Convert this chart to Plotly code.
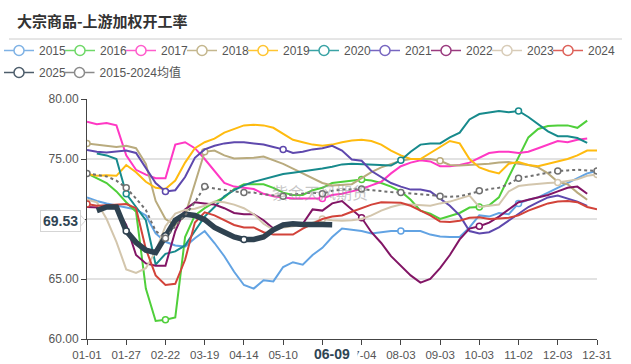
import plotly.graph_objects as go

# ---------------- data ----------------
tick_labels = ["01-01", "01-27", "02-22", "03-19", "04-14", "05-10", "",
               "07-04", "08-03", "09-03", "10-03", "11-02", "12-03", "12-31"]
weeks = list(range(53))

y2015 = [71.8, 71.5, 71.3, 71.15, 71.0, 70.8, 70.3, 68.8, 68.1, 67.8, 67.7, 68.4, 69.0,
         68.0, 66.9, 65.6, 64.5, 64.2, 64.9, 64.8, 66.0, 66.4, 66.2, 67.0, 67.6, 68.5,
         69.2, 69.1, 69.0, 68.8, 68.9, 69.0, 69.0, 69.0, 69.0, 68.7, 68.55, 68.5, 68.5,
         69.3, 70.3, 70.2, 70.5, 70.4, 71.3, 71.6, 71.8, 72.2, 72.6, 73.0, 73.4, 73.8, 74.0]
y2016 = [73.8, 73.4, 73.0, 72.3, 71.4, 70.6, 64.2, 61.5, 61.6, 61.8, 68.5, 70.3, 70.9,
         71.4, 71.8, 72.5, 72.9, 72.9, 72.9, 72.6, 72.2, 72.0, 72.0, 72.4, 72.6, 73.0,
         73.1, 73.2, 73.3, 73.2, 73.0, 72.7, 72.3, 71.6, 70.7, 70.45, 70.0, 70.25, 70.5,
         70.95, 71.0, 71.15, 71.8, 73.5, 75.2, 76.8, 77.5, 77.75, 77.8, 77.8, 77.6, 78.2, None]
y2017 = [78.1, 77.9, 78.0, 77.8, 75.3, 74.1, 73.7, 73.4, 73.4, 76.2, 76.4, 75.9, 75.0,
         74.0, 73.0, 72.7, 72.6, 72.5, 72.1, 71.9, 71.8, 71.7, 71.7, 71.7, 71.7, 72.0,
         72.1, 72.3, 72.5, 72.8, 73.1, 73.8, 74.4, 74.7, 74.9, 74.8, 74.4, 74.4, 74.5,
         74.7, 75.1, 75.5, 75.6, 75.6, 75.5, 75.6, 75.9, 76.2, 76.5, 76.4, 76.6, 76.7, None]
y2018 = [76.3, 76.2, 76.05, 76.0, 76.1, 75.9, 74.6, 71.5, 70.0, 69.5, 70.3, 73.0, 75.6,
         75.7, 75.3, 75.05, 75.05, 75.1, 75.2, 74.9, 74.6, 74.2, 73.8, 73.4, 73.0, 72.8,
         72.85, 72.9, 73.4, 73.9, 74.3, 74.6, 74.85, 75.0, 75.0, 75.0, 74.85, 74.5, 74.45,
         74.5, 74.5, 74.6, 74.7, 74.75, 74.6, 74.5, 74.3, 73.8, 73.1, 72.9, 72.2, 71.6, None]
y2019 = [73.75, 73.6, 73.65, 73.6, 74.5, 73.9, 73.1, 72.6, 72.5, 73.2, 74.7, 75.9, 76.4,
         76.7, 77.2, 77.5, 77.8, 77.85, 77.8, 77.6, 77.1, 76.6, 76.4, 76.2, 76.1, 76.2,
         76.4, 76.55, 76.6, 76.5, 76.2, 75.7, 75.3, 75.0, 75.0, 75.5, 76.0, 76.5, 76.3,
         75.0, 74.3, 74.0, 73.8, 74.6, 74.75, 74.5, 74.4, 74.6, 74.8, 75.0, 75.3, 75.7, 75.7]
y2020 = [None, 75.45, 75.3, 75.0, 72.1, 71.0, 69.9, 66.2, 67.1, 67.3, 67.8, 69.0, 70.2,
         71.0, 71.9, 72.4, 72.8, 73.1, 73.3, 73.5, 73.75, 73.85, 73.95, 74.05, 74.2, 74.35,
         74.55, 74.6, 74.55, 74.5, 74.45, 74.45, 74.9, 75.6, 76.2, 76.3, 76.3, 76.8, 77.2,
         78.3, 78.75, 78.9, 79.0, 78.9, 79.0, 78.5, 77.9, 77.3, 76.9, 76.9, 76.75, 76.35, None]
y2021 = [75.75, 75.6, 75.55, 75.65, 75.7, 75.5, 74.3, 73.0, 72.3, 72.4, 73.5, 75.1, 75.8,
         76.1, 76.3, 76.4, 76.4, 76.3, 76.2, 76.0, 75.8, 75.5, 75.6, 75.8, 75.9, 76.1,
         75.7, 74.95, 74.85, 74.0, 73.5, 73.0, 72.7, 72.45, 72.45, 72.3, 71.7, 71.1, 70.3,
         69.0, 68.8, 68.9, 69.3, 69.85, 70.4, 71.0, 71.4, 71.8, 71.95, 71.7, 71.45, 71.1, None]
y2022 = [71.0, 70.95, 70.95, 70.9, 69.5, 67.0, 66.3, 66.1, 66.1, 69.0, 70.8, 71.4, 71.3,
         71.2, 70.9, 70.5, 70.4, 70.4, 69.9, 69.2, 69.6, 69.6, 69.6, 70.8, 70.7, 71.3,
         71.5, 70.8, 70.1, 68.9, 68.0, 66.9, 66.1, 65.3, 64.7, 65.0, 65.9, 67.0, 68.3,
         69.2, 69.4, 69.7, 70.2, 70.8, 71.4, 71.6, 71.8, 72.0, 72.3, 72.6, 72.7, 72.1, None]
y2023 = [71.6, 71.4, 70.0, 68.1, 65.8, 65.5, 65.9, 67.3, 69.4, 70.45, 70.75, 70.85, 71.1,
         71.45, 71.4, 71.2, 70.9, 70.4, 69.6, 69.1, 69.3, 69.4, 69.5, 69.7, 70.0, 69.9,
         69.85, 69.9, 70.0, 70.3, 70.7, 71.0, 71.2, 71.2, 71.15, 71.1, 71.3, 71.45, 71.7,
         71.95, 71.0, 71.1, 71.2, 72.3, 72.75, 72.85, 72.95, 73.0, 73.05, 73.2, 73.3, 73.6, 73.7]
y2024 = [71.25, 71.1, 71.15, 71.2, 71.25, 70.9, 67.5, 65.3, 64.5, 64.6, 66.6, 69.7, 70.55,
         70.3, 69.9, 69.5, 69.3, 69.3, 68.9, 68.7, 68.7, 68.7, 69.2, 69.6, 70.0, 70.2,
         70.3, 70.6, 70.9, 71.2, 71.4, 71.4, 71.35, 71.1, 70.7, 70.3, 69.8, 69.75, 69.85,
         70.1, 70.15, 70.0, 70.05, 70.1, 70.3, 70.7, 71.0, 71.3, 71.45, 71.5, 71.4, 71.0, 70.8]
y2025 = [None, 70.7, 71.0, 71.0, 69.0, 68.05, 67.4, 67.2, 68.6, 69.9, 70.4, 70.3, 69.95,
         69.3, 68.9, 68.5, 68.3, 68.3, 68.5, 69.1, 69.5, 69.6, 69.55, 69.5, 69.55, 69.53]
y_mean = [73.8, 73.7, 73.55, 73.2, 72.6, 71.7, 70.75, 69.0, 68.4, 69.4, 70.3, 71.4, 72.7,
          72.55, 72.4, 72.3, 72.2, 72.2, 72.05, 71.95, 71.9, 72.05, 72.15, 72.2, 72.1, 72.35,
          72.45, 72.5, 72.5, 72.4, 72.3, 72.25, 72.2, 72.15, 72.1, 72.0, 71.9, 71.85, 71.9,
          72.1, 72.35, 72.5, 72.6, 72.9, 73.4, 73.55, 73.75, 73.9, 74.0, 74.05, 74.1, 74.05, 74.0]

series_names = ["2015", "2016", "2017", "2018", "2019", "2020", "2021", "2022",
                "2023", "2024", "2025", "2015-2024均值"]
series_values = [y2015, y2016, y2017, y2018, y2019, y2020, y2021, y2022,
                 y2023, y2024, y2025, y_mean]
y_tick_vals = [60, 65, 70, 75, 80]
y_tick_text = ["60.00", "65.00", "", "75.00", "80.00"]
pointer_x_label = "06-09"

# ---------------- style ----------------
line_colors = ["#62a3e3", "#4fcf3a", "#ff38c4", "#b9ab7e", "#ffbb0f", "#178a8c",
               "#5e48ad", "#821565", "#d3c6ad", "#d2433a", "#2f4250", "#707070"]
legend_colors = ["#7fb2e5", "#6fd868", "#ff5ccc", "#c4b78e", "#ffc531", "#3aa3a5",
                 "#7766c0", "#9a3b7f", "#d8ccb8", "#dd6159", "#4d5d6b", "#8a8a8a"]
line_widths = [2, 2, 2, 2, 2, 2, 2, 2, 2, 2, 5.5, 2]
line_dash = ["solid"] * 11 + ["dot"]
marker_points = [[32, 44], [8, 28, 40], [24], [0, 12, 36], [], [4, 32, 44], [8, 20],
                 [28, 40], [24, 48, 52], [0], [4, 8, 16], list(range(0, 53, 4))]
# legend entry positions (pixels, left edge of entry, top)
legend_pos = [(-1 + 61 * k, 36) for k in range(10)] + [(-1, 58), (59.5, 58)]

W, H = 631, 364
L, R, T, B = 87, 34, 99, 25
pw, ph = W - L - R, H - T - B


def px_x(p):
    return (p - L) / pw


def px_y(p):
    return (H - B - p) / ph


fig = go.Figure()

for k, name in enumerate(series_names):
    vals = series_values[k]
    xs = weeks[:len(vals)]
    fig.add_trace(go.Scatter(
        x=xs, y=vals, mode="lines", name=name, showlegend=False,
        line=dict(color=line_colors[k], width=line_widths[k], dash=line_dash[k]),
        hoverinfo="skip"))
    mi = [i for i in marker_points[k] if i < len(vals) and vals[i] is not None]
    if mi:
        fig.add_trace(go.Scatter(
            x=[xs[i] for i in mi], y=[vals[i] for i in mi], mode="markers",
            showlegend=False, hoverinfo="skip",
            marker=dict(symbol="circle", size=6, color="white",
                        line=dict(color=line_colors[k], width=1.5))))

legend_layouts = {}
for k, name in enumerate(series_names):
    lid = "legend" if k == 0 else "legend%d" % (k + 1)
    fig.add_trace(go.Scatter(
        x=[None], y=[None], mode="lines+markers", name=name, legend=lid,
        line=dict(color=legend_colors[k], width=1.5),
        marker=dict(symbol="circle", size=10, color="white",
                    line=dict(color=legend_colors[k], width=1.5))))
    lx, ly = legend_pos[k]
    legend_layouts[lid] = dict(
        orientation="h", xanchor="left", yanchor="top",
        x=px_x(lx), y=px_y(ly),
        font=dict(family="Liberation Sans, Noto Sans CJK SC", size=12, color="#555"),
        bgcolor="rgba(0,0,0,0)", itemclick=False, itemdoubleclick=False)

last_idx = len(y2025) - 1
last_val = y2025[last_idx]

fig.update_layout(
    width=W, height=H,
    margin=dict(l=L, r=R, t=T, b=B, autoexpand=False),
    paper_bgcolor="white", plot_bgcolor="white",
    showlegend=True,
    title=dict(text="大宗商品-上游加权开工率", x=17 / W, xanchor="left",
               y=1 - 22 / H, yanchor="middle", xref="container", yref="container",
               font=dict(family="Noto Sans CJK SC", size=15, color="#333", weight="bold")),
    xaxis=dict(range=[0, 52], tickmode="array", tickvals=list(range(0, 53, 4)),
               ticktext=tick_labels, showgrid=False, zeroline=False,
               showline=True, linecolor="#444", linewidth=1,
               ticks="outside", ticklen=5, tickcolor="#444",
               tickfont=dict(family="Liberation Sans", size=11.5, color="#555")),
    yaxis=dict(range=[60, 80], tickmode="array", tickvals=y_tick_vals,
               ticktext=y_tick_text,
               showgrid=True, gridcolor="#e2e2e2", gridwidth=1.5, zeroline=False,
               showline=True, linecolor="#444", linewidth=1,
               ticks="outside", ticklen=5, tickcolor="#444",
               tickfont=dict(family="Liberation Sans", size=12, color="#555")),
    shapes=[
        dict(type="line", xref="paper", yref="paper",
             x0=px_x(9), x1=px_x(622), y0=px_y(39), y1=px_y(39),
             line=dict(color="#cccccc", width=1)),
        # small pointer tip of the y-axis value tag
        dict(type="path", xref="paper", yref="y", xsizemode="pixel", ysizemode="pixel",
             xanchor=0, yanchor=last_val,
             path="M -7,10 L -1.5,4 L -7,-2 Z",
             fillcolor="white", line=dict(color="#d5d5d5", width=1), layer="above"),
    ],
    **legend_layouts,
)

fig.add_annotation(text="紫金天风期货", xref="paper", yref="paper",
                   x=px_x(320), y=px_y(178), showarrow=False,
                   font=dict(family="Noto Sans CJK SC", size=16, color="rgba(150,150,150,0.55)"))
fig.add_annotation(text="<b>%.2f</b>" % last_val, xref="paper", yref="y",
                   x=0, y=last_val, xanchor="right", yanchor="middle",
                   xshift=-6, yshift=4, showarrow=False,
                   font=dict(family="Liberation Sans", size=14, color="#2f4554"),
                   bgcolor="white", bordercolor="#d5d5d5", borderwidth=1, borderpad=2)
fig.add_annotation(text="<b>%s</b>" % pointer_x_label, xref="x", yref="paper",
                   x=weeks[last_idx], y=0, xanchor="center", yanchor="top",
                   yshift=-6, showarrow=False, width=50,
                   font=dict(family="Liberation Sans", size=14, color="#2f4554"),
                   bgcolor="white", borderpad=0)

fig.write_html("out.html", config={"displayModeBar": False, "staticPlot": True},
               post_script="document.body.style.margin='0';")
